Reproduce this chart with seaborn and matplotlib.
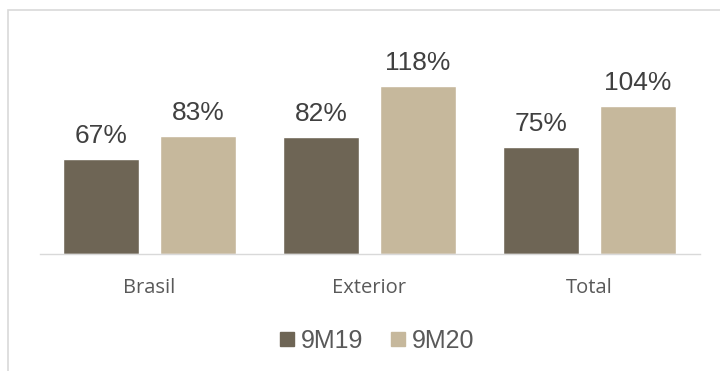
import matplotlib
matplotlib.use("Agg")
import matplotlib.pyplot as plt
import seaborn as sns
import pandas as pd
from matplotlib.patches import Rectangle
from matplotlib.lines import Line2D

categories = ["Brasil", "Exterior", "Total"]
series = ["9M19", "9M20"]
values_9m19 = [67, 82, 75]
values_9m20 = [83, 118, 104]

colors = {"9M19": "#6E6555", "9M20": "#C6B89C"}

df = pd.DataFrame({
    "cat": categories * 2,
    "serie": ["9M19"] * 3 + ["9M20"] * 3,
    "val": values_9m19 + values_9m20,
})

sns.set_theme(style="white")
plt.rcParams["font.family"] = ["Liberation Sans", "DejaVu Sans"]

fig = plt.figure(figsize=(7.2, 3.71), dpi=100)
ax = fig.add_axes([39.5 / 720, 1 - 254 / 371, 660 / 720, 199 / 371])

sns.barplot(data=df, x="cat", y="val", hue="serie", palette=colors,
            width=0.88, gap=0.216, ax=ax, legend=False, saturation=1)

ax.set_ylim(0, 140)
ax.set_xlim(-0.5, 2.5)
for cont in ax.containers:
    for bar in cont:
        h = bar.get_height()
        ax.annotate(f"{h:.0f}%", (bar.get_x() + bar.get_width() / 2, h),
                    xytext=(0, 8), textcoords="offset points",
                    ha="center", va="bottom", fontsize=19, color="#404040")

for s in ["top", "right", "left"]:
    ax.spines[s].set_visible(False)
ax.spines["bottom"].set_color("#d9d9d9")
ax.spines["bottom"].set_linewidth(1)
ax.set_yticks([])
ax.set_xlabel("")
ax.set_ylabel("")
ax.tick_params(axis="x", length=0, pad=17.5)
for lab in ax.get_xticklabels():
    lab.set_fontfamily(["Open Sans", "DejaVu Sans"])
    lab.set_fontsize(14.5)
    lab.set_color("#595959")

fig.patches.append(Rectangle((8 / 720, -0.1), 1.2, 1 - 10 / 371 + 0.1,
                             transform=fig.transFigure, fill=False,
                             edgecolor="#d9d9d9", linewidth=1.2))

handles = [Line2D([], [], marker="s", linestyle="", markersize=10.5,
                  markerfacecolor=colors[s], markeredgecolor=colors[s])
           for s in series]
fig.legend(handles, series, loc="center", bbox_to_anchor=(0.52, 1 - 341 / 371),
           ncol=2, frameon=False, fontsize=18, handletextpad=0.05,
           columnspacing=0.9, handlelength=1.0, labelcolor="#595959")

fig.savefig("out.png", dpi=100)
